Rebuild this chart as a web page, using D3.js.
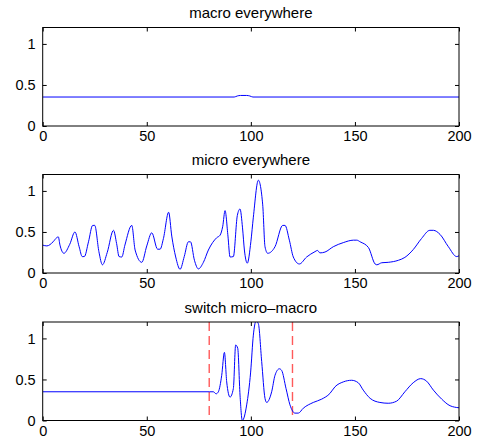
<!DOCTYPE html>
<html>
<head>
<meta charset="utf-8">
<title>macro / micro</title>
<style>
  body { margin: 0; background: #fff; }
  svg text { font-family: "Liberation Sans", Arial, sans-serif; fill: #000; }
  .box { fill: none; stroke: #000; stroke-width: 1; }
  .tick line { stroke: #000; }
</style>
<script src="https://d3js.org/d3.v7.min.js"></script>
</head>
<body>
<svg id="fig" width="478" height="440"></svg>
<script>
// ---- data ----
const xTicks = [0, 50, 100, 150, 200];
const yTicks = [0, 0.5, 1];

const macroX = [0, 92, 93.5, 95, 98, 99.5, 101, 200];
const macroY = [0.353, 0.353, 0.366, 0.372, 0.372, 0.366, 0.353, 0.353];

const microX = [0, 2, 5, 6.7, 7.5, 8.3, 10.2, 13, 15.5, 17.5, 19, 20, 22, 24, 25, 27, 28.7, 31, 34,
  35.5, 36.7, 38, 39.5, 42.8, 44.4, 47.6, 50, 52.4, 55.2, 56.4, 58, 60.5, 62, 63.9, 66, 68, 70, 71,
  72.9, 74.8, 77.2, 79.6, 83.6, 85.2, 86.5, 87.6, 89, 90, 91.6, 93.5, 94.8, 96, 96.9, 98.3, 100,
  101.2, 103.6, 105.7, 106.8, 108.1, 111.6, 115.3, 116.4, 118.5, 120.4, 123.3, 126.8, 130.8, 132,
  133.2, 135.6, 139.6, 144.4, 149.3, 150.9, 152.5, 156.5, 159.7, 160.5, 162.9, 166, 170.9, 174,
  178, 182, 186, 187.7, 190.9, 194.9, 198.9, 200];
const microY = [0.34, 0.33, 0.38, 0.43, 0.44, 0.34, 0.24, 0.35, 0.50, 0.32, 0.20, 0.20, 0.38, 0.58,
  0.58, 0.26, 0.10, 0.25, 0.52, 0.36, 0.20, 0.195, 0.34, 0.58, 0.28, 0.13, 0.33, 0.49, 0.29, 0.29,
  0.42, 0.74, 0.45, 0.195, 0.045, 0.20, 0.38, 0.38, 0.155, 0.05, 0.13, 0.28, 0.43, 0.46, 0.57,
  0.76, 0.45, 0.195, 0.20, 0.70, 0.78, 0.55, 0.28, 0.12, 0.38, 0.68, 1.13, 0.83, 0.32, 0.24, 0.32,
  0.58, 0.58, 0.40, 0.195, 0.11, 0.195, 0.26, 0.275, 0.245, 0.255, 0.32, 0.37, 0.40, 0.40, 0.38,
  0.31, 0.11, 0.10, 0.125, 0.13, 0.155, 0.19, 0.285, 0.42, 0.52, 0.52, 0.47, 0.32, 0.20, 0.21];

const switchX = [0, 80, 82, 83.3, 84.4, 86, 87.3, 88.4, 90, 91.6, 92.7, 93.7, 94.8, 95.9, 98, 99.9,
  101.2, 102.5, 103.6, 105.2, 106.8, 107.6, 110, 111.6, 113.7, 114.8, 116.9, 118.8, 121.2, 122.8,
  125.2, 130, 134, 138, 140.4, 144.4, 148.4, 151.6, 154, 157.3, 162, 166, 170, 174, 178, 181.6,
  184.4, 187.7, 191.7, 195.7, 200];
const switchY = [0.35, 0.35, 0.35, 0.325, 0.35, 0.55, 0.83, 0.47, 0.285, 0.39, 0.92, 0.88, 0.31,
  0.0, 0.19, 0.59, 1.04, 1.21, 1.18, 0.72, 0.27, 0.22, 0.35, 0.55, 0.63, 0.61, 0.39, 0.19, 0.09,
  0.09, 0.15, 0.22, 0.26, 0.33, 0.41, 0.47, 0.49, 0.46, 0.37, 0.27, 0.22, 0.21, 0.235, 0.35, 0.46,
  0.51, 0.48, 0.37, 0.26, 0.18, 0.155];

const switchBounds = [80, 120];

const panels = [
  { title: "macro everywhere", xs: macroX, ys: macroY, top: 27.5, bounds: [] },
  { title: "micro everywhere", xs: microX, ys: microY, top: 174.5, bounds: [] },
  { title: "switch micro\u2013macro", xs: switchX, ys: switchY, top: 322, bounds: switchBounds }
];

// ---- drawing ----
const svg = d3.select("#fig");
const left = 42.7, right = 459, h = 98.5, tickLen = 4;

const x = d3.scaleLinear().domain([0, 200]).range([left, right]);

panels.forEach((p, i) => {
  const y = d3.scaleLinear().domain([0, 1.2]).range([p.top + h, p.top]);
  const g = svg.append("g");

  g.append("clipPath").attr("id", "clip" + i)
    .append("rect").attr("x", left).attr("y", p.top).attr("width", right - left).attr("height", h);

  // ticks on all four sides, pointing inward
  g.append("g").attr("transform", `translate(0,${p.top + h})`)
    .call(d3.axisBottom(x).tickValues(xTicks).tickSizeInner(-tickLen).tickSizeOuter(0).tickPadding(5))
    .call(a => a.select(".domain").remove())
    .selectAll("text").attr("font-size", 14.5);
  g.append("g").attr("transform", `translate(0,${p.top})`)
    .call(d3.axisTop(x).tickValues(xTicks).tickSizeInner(-tickLen).tickSizeOuter(0).tickFormat(""))
    .call(a => a.select(".domain").remove());
  g.append("g").attr("transform", `translate(${left},0)`)
    .call(d3.axisLeft(y).tickValues(yTicks).tickSizeInner(-tickLen).tickSizeOuter(0).tickPadding(7)
      .tickFormat(d3.format("")))
    .call(a => a.select(".domain").remove())
    .selectAll("text").attr("font-size", 14.5);
  g.append("g").attr("transform", `translate(${right},0)`)
    .call(d3.axisRight(y).tickValues(yTicks).tickSizeInner(-tickLen).tickSizeOuter(0).tickFormat(""))
    .call(a => a.select(".domain").remove());

  g.selectAll(".tick line").attr("stroke", "#000");

  // dashed switch boundaries
  g.selectAll("line.bound").data(p.bounds).join("line")
    .attr("class", "bound")
    .attr("x1", d => x(d)).attr("x2", d => x(d))
    .attr("y1", p.top).attr("y2", p.top + h)
    .attr("stroke", "#ff5a5a").attr("stroke-width", 1.4)
    .attr("stroke-dasharray", "9,5");

  const line = d3.line()
    .x(d => x(d[0])).y(d => y(d[1]))
    .curve(d3.curveMonotoneX);

  g.append("path")
    .datum(p.xs.map((v, k) => [v, p.ys[k]]))
    .attr("clip-path", `url(#clip${i})`)
    .attr("d", line)
    .attr("fill", "none")
    .attr("stroke", "#0000ff")
    .attr("stroke-width", 1);

  g.append("rect").attr("class", "box")
    .attr("x", left).attr("y", p.top).attr("width", right - left).attr("height", h);

  g.append("text")
    .attr("x", (left + right) / 2).attr("y", p.top - 9.5)
    .attr("text-anchor", "middle").attr("font-size", 15)
    .text(p.title);
});
</script>
</body>
</html>
